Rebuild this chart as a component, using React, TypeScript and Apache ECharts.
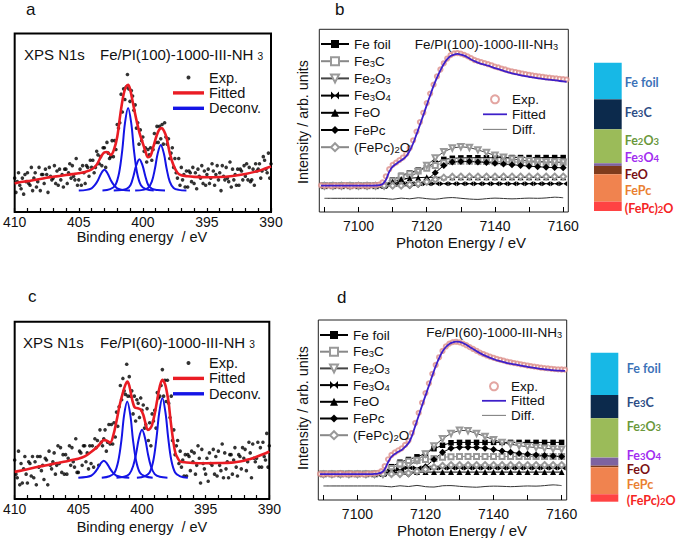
import React, { useEffect, useRef } from 'react';
import * as echarts from 'echarts';

const FONT = "'Liberation Sans', Arial, Helvetica, sans-serif";
const LABEL_FONT = "Lato, 'Liberation Sans', sans-serif";

// ---------------- XPS N1s (panels a, c) ----------------
// measurement grid: 410 -> 390 eV, 0.1 eV step
const xpsEnergy = Array.from({ length: 201 }, (_, i) => +(410 - i * 0.1).toFixed(1));

const xpsExpA = [
  19, 11, 17, 22, 15, 13, 19, 10, 21, 17, 22, 16, 15, 25, 12, 19, 22, 14, 17, 25,
  12, 21, 21, 16, 24, 21, 11, 25, 20, 18, 19, 26, 16, 23, 15, 24, 18, 21, 14, 24,
  24, 16, 22, 27, 19, 26, 20, 18, 30, 15, 18, 24, 15, 26, 22, 16, 26, 25, 20, 29,
  25, 29, 22, 25, 34, 32, 27, 31, 26, 36, 36, 25, 39, 33, 30, 31, 40, 31, 40, 35,
  49, 47, 50, 66, 56, 69, 63, 70, 77, 69, 62, 68, 65, 57, 60, 47, 50, 38, 46, 40,
  42, 34, 36, 28, 35, 32, 36, 29, 35, 44, 39, 48, 39, 48, 41, 49, 38, 50, 42, 38,
  41, 30, 33, 36, 25, 30, 22, 19, 30, 15, 25, 18, 21, 14, 23, 14, 23, 22, 17, 25,
  16, 22, 13, 24, 20, 19, 26, 16, 23, 15, 21, 24, 16, 19, 27, 23, 15, 21, 26, 18,
  22, 12, 26, 20, 18, 25, 19, 17, 28, 14, 24, 18, 21, 15, 24, 15, 24, 23, 18, 26,
  20, 27, 18, 25, 17, 18, 24, 15, 27, 23, 24, 27, 19, 23, 31, 29, 24, 22, 33, 19,
  27,
];

const xpsExpC = [
  22, 14, 12, 27, 8, 20, 9, 17, 24, 14, 9, 21, 20, 13, 24, 12, 21, 8, 24, 18,
  24, 16, 19, 11, 23, 22, 8, 27, 19, 17, 21, 26, 14, 19, 30, 20, 29, 15, 25, 14,
  25, 14, 23, 30, 19, 29, 21, 18, 34, 15, 15, 27, 26, 19, 30, 30, 21, 26, 17, 30,
  20, 30, 18, 34, 29, 33, 19, 39, 32, 30, 34, 39, 27, 32, 42, 31, 42, 31, 43, 35,
  49, 41, 52, 64, 56, 68, 61, 59, 76, 58, 69, 58, 61, 48, 58, 44, 56, 54, 46, 57,
  50, 53, 40, 42, 51, 33, 43, 30, 48, 44, 50, 40, 60, 57, 58, 64, 73, 58, 67, 55,
  67, 54, 46, 58, 33, 39, 25, 30, 33, 20, 27, 18, 22, 13, 25, 13, 25, 24, 16, 27,
  21, 26, 14, 19, 30, 23, 9, 28, 20, 17, 14, 23, 10, 26, 20, 19, 28, 14, 24, 13,
  27, 19, 16, 31, 12, 26, 17, 21, 12, 25, 25, 14, 22, 29, 18, 13, 25, 24, 17, 29,
  23, 28, 16, 21, 32, 26, 12, 31, 23, 21, 23, 32, 18, 29, 18, 32, 24, 22, 37, 18,
  30,
];

const xpsFitA: [number, number][] = [
  [410, 16], [409.5, 16.8], [409, 17.3], [408.5, 17.9], [408, 18.5], [407.5, 19.2], [407, 19.7],
  [406.5, 20.2], [406, 20.7], [405.5, 21.2], [405, 21.7], [404.5, 22.4], [404, 23.8], [403.6, 26.5],
  [403.3, 30.5], [403, 33.4], [402.8, 33.6], [402.5, 32], [402.25, 35], [402, 42], [401.75, 55],
  [401.5, 66], [401.3, 70.3], [401.15, 71.3], [401, 69], [400.8, 62], [400.5, 51.5], [400.25, 44],
  [400, 38.5], [399.8, 34], [399.6, 30.7], [399.4, 31.5], [399.2, 36], [398.9, 43.3], [398.7, 46.3],
  [398.55, 47], [398.35, 45.5], [398.15, 41.5], [397.9, 33], [397.6, 26], [397.3, 22], [397, 20.6],
  [396.5, 20], [396, 19.7], [395, 19.5], [394, 19.6], [393, 20.2], [392, 21.3], [391, 23],
  [390.5, 24.2], [390, 25.5],
];

const xpsFitC: [number, number][] = [
  [410, 15.3], [409.5, 16], [409, 16.8], [408.5, 17.6], [408, 18.4], [407.5, 19], [407, 19.8],
  [406.5, 20.5], [406, 21.2], [405.5, 22], [405, 22.7], [404.5, 24], [404, 26.5], [403.5, 29.5],
  [403.2, 32], [403, 33.2], [402.8, 33], [402.5, 31.8], [402.25, 36], [402, 44], [401.75, 53],
  [401.5, 60], [401.3, 64.5], [401.15, 66.3], [401, 64], [400.77, 56], [400.55, 51.5], [400.33, 51.2],
  [400.1, 50.5], [399.9, 47.5], [399.7, 42], [399.54, 39], [399.35, 39.8], [399.2, 42], [399, 48],
  [398.8, 56], [398.6, 63.5], [398.4, 67.2], [398.2, 65], [398.08, 61.6], [397.9, 54], [397.76, 44.6],
  [397.55, 33], [397.37, 25.8], [397.15, 22.5], [396.98, 21.1], [396.5, 20.6], [396, 20.3],
  [395, 20.2], [394, 20.3], [393, 20.5], [392, 21.6], [391.5, 22.6], [391, 23.8], [390.5, 25.2],
  [390, 26.8],
];

const deconvA: [number, number][][] = [
  [[405, 12], [404.4, 12.4], [404, 13.3], [403.75, 15], [403.5, 17.8], [403.25, 21.6], [403, 23.6],
   [402.75, 21.6], [402.5, 17.8], [402.25, 15], [402, 13.3], [401.6, 12.4], [401, 12]],
  [[403.15, 12], [402.55, 12.8], [402.15, 15], [401.85, 22], [401.6, 35], [401.4, 49.5], [401.15, 58.3],
   [400.9, 49.5], [400.7, 35], [400.45, 22], [400.15, 15], [399.75, 12.8], [399.15, 12]],
  [[402.27, 12], [401.67, 12.3], [401.27, 13], [400.97, 15], [400.72, 20.5], [400.52, 26], [400.27, 29.6],
   [400.02, 26], [399.82, 20.5], [399.57, 15], [399.27, 13], [398.87, 12.3], [398.27, 12]],
  [[400.6, 12], [400, 12.4], [399.6, 13.5], [399.3, 17], [399.05, 24.5], [398.85, 32.5], [398.6, 37.6],
   [398.35, 32.5], [398.15, 24.5], [397.9, 17], [397.6, 13.5], [397.2, 12.4], [396.6, 12]],
];

const deconvC: [number, number][][] = [
  [[405, 12], [404.4, 12.4], [404, 13.1], [403.75, 14.6], [403.5, 17], [403.25, 20], [403, 21.6],
   [402.75, 20], [402.5, 17], [402.25, 14.6], [402, 13.1], [401.6, 12.4], [401, 12]],
  [[403.16, 12], [402.56, 12.8], [402.16, 14.8], [401.86, 21.5], [401.61, 33.5], [401.41, 47], [401.16, 55],
   [400.91, 47], [400.71, 33.5], [400.46, 21.5], [400.16, 14.8], [399.76, 12.8], [399.16, 12]],
  [[402, 12], [401.4, 12.5], [401, 14], [400.7, 18.5], [400.45, 26], [400.25, 34], [400, 39],
   [399.75, 34], [399.55, 26], [399.3, 18.5], [399, 14], [398.6, 12.5], [398, 12]],
  [[400.4, 12], [399.8, 12.8], [399.4, 15], [399.1, 22], [398.85, 35], [398.65, 48.5], [398.4, 57],
   [398.15, 48.5], [397.95, 35], [397.7, 22], [397.4, 15], [397, 12.8], [396.4, 12]],
];

// ---------------- Fe K-edge XANES (panels b, d) ----------------
const xanesEnergy = Array.from({ length: 73 }, (_, i) => 7089 + i); // 7089..7161, 1 eV
const refEnergy = Array.from({ length: 29 }, (_, i) => 7090 + i * 2.5); // 7090..7160

const expB = [
  14.6, 14.3, 14.5, 14.2, 14.6, 14.4, 14.3, 14.7, 14.4, 14.2, 14.5, 14.6, 14.3, 14.5, 14.4, 14.6,
  14.7, 15.0, 16.2, 19.5, 23.4, 25.8, 27.0, 28.4, 29.8, 31.8, 35.0, 39.2, 44.0, 49.2, 54.3, 59.6,
  64.8, 69.7, 74.2, 78.0, 81.4, 84.0, 85.9, 86.8, 87.0, 86.7, 86.0, 85.2, 84.2, 83.2, 82.6, 82.0,
  81.5, 80.9, 80.3, 79.6, 79.1, 78.5, 78.0, 77.4, 77.0, 76.6, 76.2, 75.8, 75.5, 75.1, 74.8, 74.5,
  74.2, 74.0, 73.7, 73.5, 73.3, 73.1, 72.9, 72.7, 72.5,
];
const fitB = [
  14.4, 14.4, 14.4, 14.4, 14.4, 14.4, 14.4, 14.4, 14.4, 14.4, 14.4, 14.4, 14.4, 14.4, 14.4, 14.4,
  14.5, 14.7, 15.2, 17.5, 22.0, 24.8, 26.3, 27.6, 28.9, 30.5, 33.5, 37.5, 42.5, 47.7, 53.0, 58.5,
  63.8, 69.0, 73.5, 77.5, 81.0, 83.7, 85.4, 86.2, 86.5, 86.2, 85.6, 84.6, 83.5, 82.6, 81.8, 81.1,
  80.6, 80.1, 79.4, 78.7, 78.2, 77.6, 77.0, 76.4, 75.9, 75.5, 75.1, 74.7, 74.4, 74.0, 73.7, 73.4,
  73.1, 72.9, 72.6, 72.4, 72.2, 72.0, 71.7, 71.5, 71.3,
];
const expD = [
  14.5, 14.3, 14.6, 14.4, 14.2, 14.5, 14.7, 14.3, 14.4, 14.6, 14.3, 14.5, 14.4, 14.2, 14.6, 14.5,
  14.8, 15.1, 16.0, 18.8, 22.6, 25.0, 26.4, 27.6, 28.7, 30.6, 33.0, 37.2, 42.8, 48.4, 54.0, 59.4,
  64.8, 70.1, 75.0, 79.3, 82.8, 85.3, 86.9, 87.7, 87.9, 87.6, 86.9, 86.0, 84.9, 83.9, 82.9, 81.9,
  81.1, 80.3, 79.6, 79.0, 78.4, 77.9, 77.4, 76.9, 76.5, 76.1, 75.8, 75.4, 75.1, 74.7, 74.4, 74.1,
  73.8, 73.5, 73.3, 73.1, 72.9, 72.7, 72.6, 72.5, 72.4,
];
const fitD = [
  14.4, 14.4, 14.4, 14.4, 14.4, 14.4, 14.4, 14.4, 14.4, 14.4, 14.4, 14.4, 14.4, 14.4, 14.4, 14.4,
  14.5, 14.7, 15.2, 17.0, 21.0, 24.0, 25.6, 26.8, 27.8, 29.5, 31.5, 35.5, 41.2, 46.8, 52.5, 58.0,
  63.5, 69.0, 74.3, 78.8, 82.5, 85.0, 86.7, 87.6, 88.0, 87.8, 87.2, 86.2, 85.0, 83.9, 82.7, 81.6,
  80.6, 79.8, 79.0, 78.3, 77.6, 77.1, 76.6, 76.1, 75.7, 75.4, 75.1, 74.7, 74.4, 74.0, 73.7, 73.4,
  73.1, 72.8, 72.6, 72.4, 72.2, 72.0, 71.9, 71.8, 71.7,
];

// reference-compound components (7090..7160, 2.5 eV)
const feFoilB = [14.4, 14.4, 14.4, 14.4, 14.4, 14.4, 14.4, 14.8, 17.5, 20, 21.5, 23, 24.8, 26.7, 28.8, 29.4, 29.6, 29.7, 29.7, 29.7, 29.7, 29.8, 29.8, 29.8, 29.8, 29.8, 29.8, 29.8, 29.8];
const fe3cB = [14.4, 14.4, 14.4, 14.4, 14.4, 14.4, 14.4, 14.6, 17, 19.5, 21, 22.5, 24, 25.5, 27, 27.6, 27.8, 27.8, 27.7, 27.6, 27.5, 27.4, 27.4, 27.3, 27.3, 27.2, 27.2, 27.2, 27.2];
const fe2o3B = [14.4, 14.4, 14.4, 14.4, 14.4, 14.4, 14.4, 14.4, 15.5, 17, 19, 22, 25.5, 29.5, 33, 35, 35.7, 35.3, 34, 32.5, 31, 30, 29, 28.4, 28, 27.7, 27.5, 27.3, 27.2];
const fe3o4B = [14.4, 14.4, 14.4, 14.4, 14.4, 14.4, 14.4, 14.4, 15, 15.5, 15.5, 15.5, 15.5, 15.5, 15.5, 15.5, 15.5, 15.5, 15.5, 15.5, 15.5, 15.5, 15.5, 15.5, 15.5, 15.5, 15.5, 15.5, 15.5];
const feoB = [14.4, 14.4, 14.4, 14.4, 14.4, 14.4, 14.4, 14.4, 16.5, 18, 18.5, 18.8, 19, 19, 19, 19, 19, 19, 19, 19, 19, 19, 19, 19, 19, 19, 19, 19, 19];
const fepcB = [14.4, 14.4, 14.4, 14.4, 14.4, 14.4, 14.4, 14.4, 14.4, 14.4, 14.4, 15, 17.5, 21.5, 25.5, 27.3, 27.6, 27.6, 27.4, 27.1, 26.7, 26.3, 25.9, 25.5, 25.1, 24.8, 24.5, 24.3, 24.2];
const fepc2oB = [14.4, 14.4, 14.4, 14.4, 14.4, 14.4, 14.4, 14.4, 14.4, 14.4, 15, 15.5, 16.5, 17.8, 18.8, 19.3, 19.4, 19.4, 19.4, 19.4, 19.4, 19.4, 19.4, 19.4, 19.4, 19.4, 19.4, 19.4, 19.4];
const diffB = [7.5, 7.5, 7.5, 7.5, 7.5, 7.5, 7.5, 7.4, 7.0, 7.6, 7.2, 7.8, 7.3, 7.0, 7.6, 7.9, 7.5, 7.1, 6.9, 7.3, 7.6, 7.4, 7.2, 7.4, 7.6, 7.5, 7.7, 8.1, 7.8];

const feFoilD = [14.4, 14.4, 14.4, 14.4, 14.4, 14.4, 14.4, 15, 18.5, 21, 22.5, 24, 25.8, 28.5, 30.4, 31.8, 32, 32, 32, 32, 32, 32, 32, 32, 32, 32, 32, 32, 32];
const fe3cD = [14.4, 14.4, 14.4, 14.4, 14.4, 14.4, 14.4, 14.8, 17.5, 20, 21.5, 22, 22.5, 23, 23.8, 24, 24.2, 24.2, 24.2, 24.2, 24.2, 24.2, 24.2, 24.2, 24.2, 24.2, 24.2, 24.2, 24.2];
const fe2o3D = [14.4, 14.4, 14.4, 14.4, 14.4, 14.4, 14.4, 14.4, 15.5, 17, 19, 22, 25.5, 30, 34, 37, 38.7, 38.5, 37, 35.3, 33.5, 32, 31, 30.2, 29.6, 29.1, 28.7, 28.4, 28.2];
const fe3o4D = [14.4, 14.4, 14.4, 14.4, 14.4, 14.4, 14.4, 14.4, 16, 17, 17.8, 17.8, 17.8, 17.8, 17.8, 17.8, 17.8, 17.8, 17.8, 17.8, 17.8, 17.8, 17.8, 17.8, 17.8, 17.8, 17.8, 17.8, 17.8];
const feoD = [14.4, 14.4, 14.4, 14.4, 14.4, 14.4, 14.4, 14.4, 15, 15.5, 15.5, 15.5, 15.5, 15.5, 15.5, 15.5, 15.5, 15.5, 15.5, 15.5, 15.5, 15.5, 15.5, 15.5, 15.5, 15.5, 15.5, 15.5, 15.5];
const fepcD = [14.4, 14.4, 14.4, 14.4, 14.4, 14.4, 14.4, 14.4, 14.4, 14.4, 14.4, 15.5, 18.5, 22.5, 26.5, 28.8, 29.3, 29.3, 29.2, 28.8, 28, 27.2, 26.5, 25.9, 25.4, 25, 24.7, 24.4, 24.2];
const fepc2oD = [14.4, 14.4, 14.4, 14.4, 14.4, 14.4, 14.4, 14.4, 14.4, 14.4, 15, 16, 17, 18.2, 19, 19.4, 19.4, 19.4, 19.4, 19.4, 19.4, 19.4, 19.4, 19.4, 19.4, 19.4, 19.4, 19.4, 19.4];
const diffD = [7.8, 7.8, 7.8, 7.8, 7.8, 7.8, 7.8, 7.7, 7.3, 7.9, 7.5, 8.1, 7.4, 7.2, 7.9, 8.0, 7.6, 7.3, 7.1, 7.5, 7.7, 7.6, 7.4, 7.6, 7.8, 7.7, 8.0, 8.4, 8.0];

// ---------------- LCF fractions (stacked bars) ----------------
const phases = ['Fe foil', 'Fe3C', 'Fe2O3', 'Fe3O4', 'FeO', 'FePc', '(FePc)2O'];
const phaseRich = ['Fe foil', 'Fe{s|3}C', 'Fe{s|2}O{s|3}', 'Fe{s|3}O{s|4}', 'FeO', 'FePc', '(FePc){s|2}O'];
const fractionB = [24.7, 20.2, 22.9, 1.8, 5.6, 18.5, 6.3];
const fractionD = [28.4, 15.6, 26.4, 5.4, 1.1, 18.1, 5.0];

// ---------------- styles ----------------
const barColors = ['#17b8e6', '#0c2a4c', '#9bbb59', '#7e63a0', '#7f3b1c', '#f0834f', '#ff4343'];
const barTextColors = ['#3c72b8', '#2d4d86', '#6b983c', '#a22cf0', '#7a0f14', '#ea7f32', '#f52424'];
const labelOffsetB = [1, -2, -6, -7.5, 4.5, 3, 2];
const labelOffsetD = [-5, -4, -11, -6.5, 3.5, 4, 3];

const BOWTIE = 'path://M0,0L10,5L0,10ZM20,0L10,5L20,10Z';
const refStyles = [
  { symbol: 'rect', size: 5.5, color: '#000', line: '#000', rotate: 0 },
  { symbol: 'emptyRect', size: 5, color: '#999', line: '#888', rotate: 0 },
  { symbol: 'emptyTriangle', size: 5.5, color: '#999', line: '#444', rotate: 180 },
  { symbol: BOWTIE, size: [8, 5], color: '#000', line: '#000', rotate: 0 },
  { symbol: 'triangle', size: 6, color: '#000', line: '#000', rotate: 0 },
  { symbol: 'diamond', size: 7, color: '#000', line: '#000', rotate: 0 },
  { symbol: 'emptyDiamond', size: 6, color: '#999', line: '#888', rotate: 0 },
];

const subRich = { s: { fontSize: 9.5, lineHeight: 8, verticalAlign: 'bottom', fontFamily: FONT, color: '#111' } };

const legendLabel = (name: string) => {
  const key = name.split(':')[1];
  const fixed: Record<string, string> = { exp: 'Exp.', fit: 'Fitted', dec: 'Deconv.', diff: 'Diff.' };
  if (fixed[key]) return fixed[key];
  const i = phases.indexOf(key);
  return i >= 0 ? phaseRich[i] : key;
};

const pairs = (xs: number[], ys: number[]) => ys.map((y, i) => [xs[i], y]);

function xpsSeries(p: string, grid: number, exp: number[], fit: [number, number][], dec: [number, number][][]) {
  const s: any[] = [
    {
      name: `${p}:exp`, type: 'scatter', xAxisIndex: grid, yAxisIndex: grid,
      data: pairs(xpsEnergy, exp), symbol: 'circle', symbolSize: 3.6,
      itemStyle: { color: '#000' }, z: 2,
    },
  ];
  dec.forEach((d) => {
    s.push({
      name: `${p}:dec`, type: 'line', xAxisIndex: grid, yAxisIndex: grid, data: d,
      smooth: 0.35, symbol: 'none', lineStyle: { color: '#1414e6', width: 2 }, itemStyle: { color: '#1414e6' }, z: 3,
    });
  });
  s.push({
    name: `${p}:fit`, type: 'line', xAxisIndex: grid, yAxisIndex: grid, data: fit,
    smooth: 0.35, symbol: 'none', lineStyle: { color: '#ea1c24', width: 2.6 }, itemStyle: { color: '#ea1c24' }, z: 4,
  });
  return s;
}

function xanesSeries(p: string, grid: number, exp: number[], fit: number[], comps: number[][], diff: number[]) {
  const s: any[] = [];
  comps.forEach((c, i) => {
    const st = refStyles[i];
    s.push({
      name: `${p}:${phases[i]}`, type: 'line', xAxisIndex: grid, yAxisIndex: grid,
      data: pairs(refEnergy, c), symbol: st.symbol, symbolSize: st.size, symbolRotate: st.rotate,
      showAllSymbol: true, lineStyle: { color: st.line, width: 1 },
      itemStyle: { color: st.color, borderWidth: 1 }, z: 2,
    });
  });
  s.push({
    name: `${p}:diff`, type: 'line', xAxisIndex: grid, yAxisIndex: grid, data: pairs(refEnergy, diff),
    smooth: 0.3, symbol: 'none', lineStyle: { color: '#333', width: 1 }, itemStyle: { color: '#555' }, z: 2,
  });
  s.push({
    name: `${p}:exp`, type: 'scatter', xAxisIndex: grid, yAxisIndex: grid, data: pairs(xanesEnergy, exp),
    symbol: 'emptyCircle', symbolSize: 4.2, itemStyle: { color: '#dc8f8a', borderWidth: 1 }, z: 3,
  });
  s.push({
    name: `${p}:fit`, type: 'line', xAxisIndex: grid, yAxisIndex: grid, data: pairs(xanesEnergy, fit),
    smooth: 0.3, symbol: 'none', lineStyle: { color: '#3d1fc9', width: 1.8 }, itemStyle: { color: '#3d1fc9' }, z: 4,
  });
  return s;
}

function barSeries(p: string, grid: number, frac: number[], offsets: number[], dist: number) {
  return frac.map((v, i) => ({
    name: `${p}:${phases[i]}`, type: 'bar', stack: p, xAxisIndex: grid, yAxisIndex: grid,
    barWidth: '100%', data: [v], itemStyle: { color: barColors[i] },
    label: {
      show: true, position: 'right', distance: dist, offset: [0, offsets[i]],
      formatter: () => phaseRich[i],
      color: barTextColors[i], fontSize: 12.5, lineHeight: 12, fontWeight: 'bold', fontFamily: LABEL_FONT,
      rich: { s: { fontSize: 9.5, lineHeight: 8, verticalAlign: 'bottom', color: barTextColors[i], fontWeight: 'bold', fontFamily: LABEL_FONT } },
    },
  }));
}

const xpsX = (grid: number) => ({
  gridIndex: grid, type: 'value', min: 390, max: 410, inverse: true, interval: 5,
  axisLine: { show: false }, splitLine: { show: false },
  axisTick: { show: true, inside: true, length: 4, lineStyle: { color: '#000', width: 1.2 } },
  minorTick: { show: true, splitNumber: 5, length: 4, lineStyle: { color: '#000', width: 1.2 } },
  axisLabel: { fontSize: 14, color: '#111', margin: 3, fontFamily: FONT },
});
const xanesX = (grid: number) => ({
  gridIndex: grid, type: 'value', min: 7088.5, max: 7161.5,
  axisLine: { show: false }, splitLine: { show: false },
  axisTick: { show: true, inside: true, length: 5, customValues: [7090, 7100, 7110, 7120, 7130, 7140, 7150, 7160], lineStyle: { color: '#000' } },
  axisLabel: {
    customValues: [7100, 7120, 7140, 7160], formatter: (v: number) => String(v),
    fontSize: 14, lineHeight: 14, color: '#111', margin: 7, fontFamily: FONT,
  },
});
const hiddenY = (grid: number, inverse = false) => ({ gridIndex: grid, type: 'value', min: 0, max: 100, show: false, inverse });
const barX = (grid: number) => ({ gridIndex: grid, type: 'category', data: ['LCF'], show: false });

const legendBase = {
  orient: 'vertical', padding: 0, selectedMode: false, formatter: legendLabel,
};

const xpsLegend = (p: string, left: number, top: number) => ({
  ...legendBase, left, top, itemWidth: 31, itemHeight: 4, itemGap: 0.4,
  data: [
    { name: `${p}:exp`, icon: 'circle' },
    { name: `${p}:fit`, icon: 'path://M0,0H31V3.4H0Z' },
    { name: `${p}:dec`, icon: 'path://M0,0H31V3.4H0Z' },
  ],
  textStyle: { fontSize: 14.5, lineHeight: 14, color: '#111', fontFamily: FONT },
});
const compLegend = (p: string, left: number, top: number, gap: number) => ({
  ...legendBase, left, top, itemWidth: 28, itemHeight: 10, itemGap: gap,
  data: phases.map((ph) => `${p}:${ph}`),
  textStyle: { fontSize: 13.5, lineHeight: 14, color: '#111', fontFamily: FONT, rich: subRich },
});
const fitLegend = (p: string, left: number, top: number, gap: number) => ({
  ...legendBase, left, top, itemWidth: 24, itemHeight: 8, itemGap: gap,
  data: [
    { name: `${p}:exp`, icon: 'emptyCircle' },
    { name: `${p}:fit`, icon: 'path://M0,0H30V2.2H0Z' },
    { name: `${p}:diff`, icon: 'path://M0,0H30V1H0Z' },
  ],
  textStyle: { fontSize: 13.5, lineHeight: 13.5, color: '#111', fontFamily: FONT },
});

const text = (x: number, y: number, t: string, size: number, extra: any = {}) => ({
  type: 'text', x, y, rotation: extra.rotation || 0,
  style: {
    text: t, fontSize: size, fontFamily: FONT, fill: '#111',
    align: extra.align || 'left', verticalAlign: 'middle',
    rich: { s: { fontSize: size * 0.68, lineHeight: size * 0.6, verticalAlign: 'bottom', fontFamily: FONT, fill: '#111' } },
  },
  z: 100,
});

function buildOption(): any {
  return {
    animation: false,
    backgroundColor: '#fff',
    grid: [
      { left: 14, top: 33.5, width: 257, height: 178.5, show: true, borderColor: '#000', borderWidth: 2, backgroundColor: 'transparent' },
      { left: 319.3, top: 29.3, width: 249, height: 182.7, show: true, borderColor: '#222', borderWidth: 1, backgroundColor: 'transparent' },
      { left: 14, top: 321.7, width: 255.3, height: 177.3, show: true, borderColor: '#000', borderWidth: 2, backgroundColor: 'transparent' },
      { left: 318.3, top: 320, width: 248.4, height: 180, show: true, borderColor: '#222', borderWidth: 1, backgroundColor: 'transparent' },
      { left: 594, top: 62.7, width: 27.7, height: 148.3 },
      { left: 590.7, top: 352.7, width: 27.6, height: 149 },
    ],
    xAxis: [xpsX(0), xanesX(1), xpsX(2), xanesX(3), barX(4), barX(5)],
    yAxis: [hiddenY(0), hiddenY(1), hiddenY(2), hiddenY(3), hiddenY(4, true), hiddenY(5, true)],
    legend: [
      xpsLegend('xa', 173, 70),
      xpsLegend('xc', 173, 355.5),
      compLegend('b', 320, 37, 3.2),
      compLegend('d', 319, 328, 2.7),
      fitLegend('b', 483, 92.3, 1),
      fitLegend('d', 482, 379.3, 0.5),
    ],
    series: [
      ...xpsSeries('xa', 0, xpsExpA, xpsFitA, deconvA),
      ...xanesSeries('b', 1, expB, fitB, [feFoilB, fe3cB, fe2o3B, fe3o4B, feoB, fepcB, fepc2oB], diffB),
      ...xpsSeries('xc', 2, xpsExpC, xpsFitC, deconvC),
      ...xanesSeries('d', 3, expD, fitD, [feFoilD, fe3cD, fe2o3D, fe3o4D, feoD, fepcD, fepc2oD], diffD),
      ...barSeries('lb', 4, fractionB, labelOffsetB, 3),
      ...barSeries('ld', 5, fractionD, labelOffsetD, 8.5),
    ],
    graphic: [
      text(26, 9, 'a', 17),
      text(335, 9, 'b', 17),
      text(28, 296, 'c', 17),
      text(337, 297, 'd', 17),
      text(24, 54, 'XPS N1s', 15),
      text(100, 54, 'Fe/PI(100)-1000-III-NH {s|3}', 15),
      text(23, 342, 'XPS N1s', 15),
      text(100, 342, 'Fe/PI(60)-1000-III-NH {s|3}', 15),
      text(142, 237, 'Binding energy  / eV', 14.5, { align: 'center' }),
      text(142, 527, 'Binding energy  / eV', 14.5, { align: 'center' }),
      text(558, 44, 'Fe/PI(100)-1000-III-NH{s|3}', 13.5, { align: 'right' }),
      text(562, 332, 'Fe/PI(60)-1000-III-NH{s|3}', 13.5, { align: 'right' }),
      text(461, 242, 'Photon Energy / eV', 15, { align: 'center' }),
      text(462, 530, 'Photon Energy / eV', 15, { align: 'center' }),
      text(303, 122, 'Intensity / arb. units', 14.3, { align: 'center', rotation: Math.PI / 2 }),
      text(303, 408, 'Intensity / arb. units', 14.3, { align: 'center', rotation: Math.PI / 2 }),
    ],
  };
}

export default function App() {
  const ref = useRef<HTMLDivElement>(null);
  useEffect(() => {
    if (!ref.current) return;
    const chart = echarts.init(ref.current, null, { renderer: 'svg' });
    chart.setOption(buildOption());
    return () => chart.dispose();
  }, []);
  return (
    <div
      ref={ref}
      style={{ position: 'fixed', left: 0, top: 0, width: 685, height: 538, background: '#fff' }}
    />
  );
}
